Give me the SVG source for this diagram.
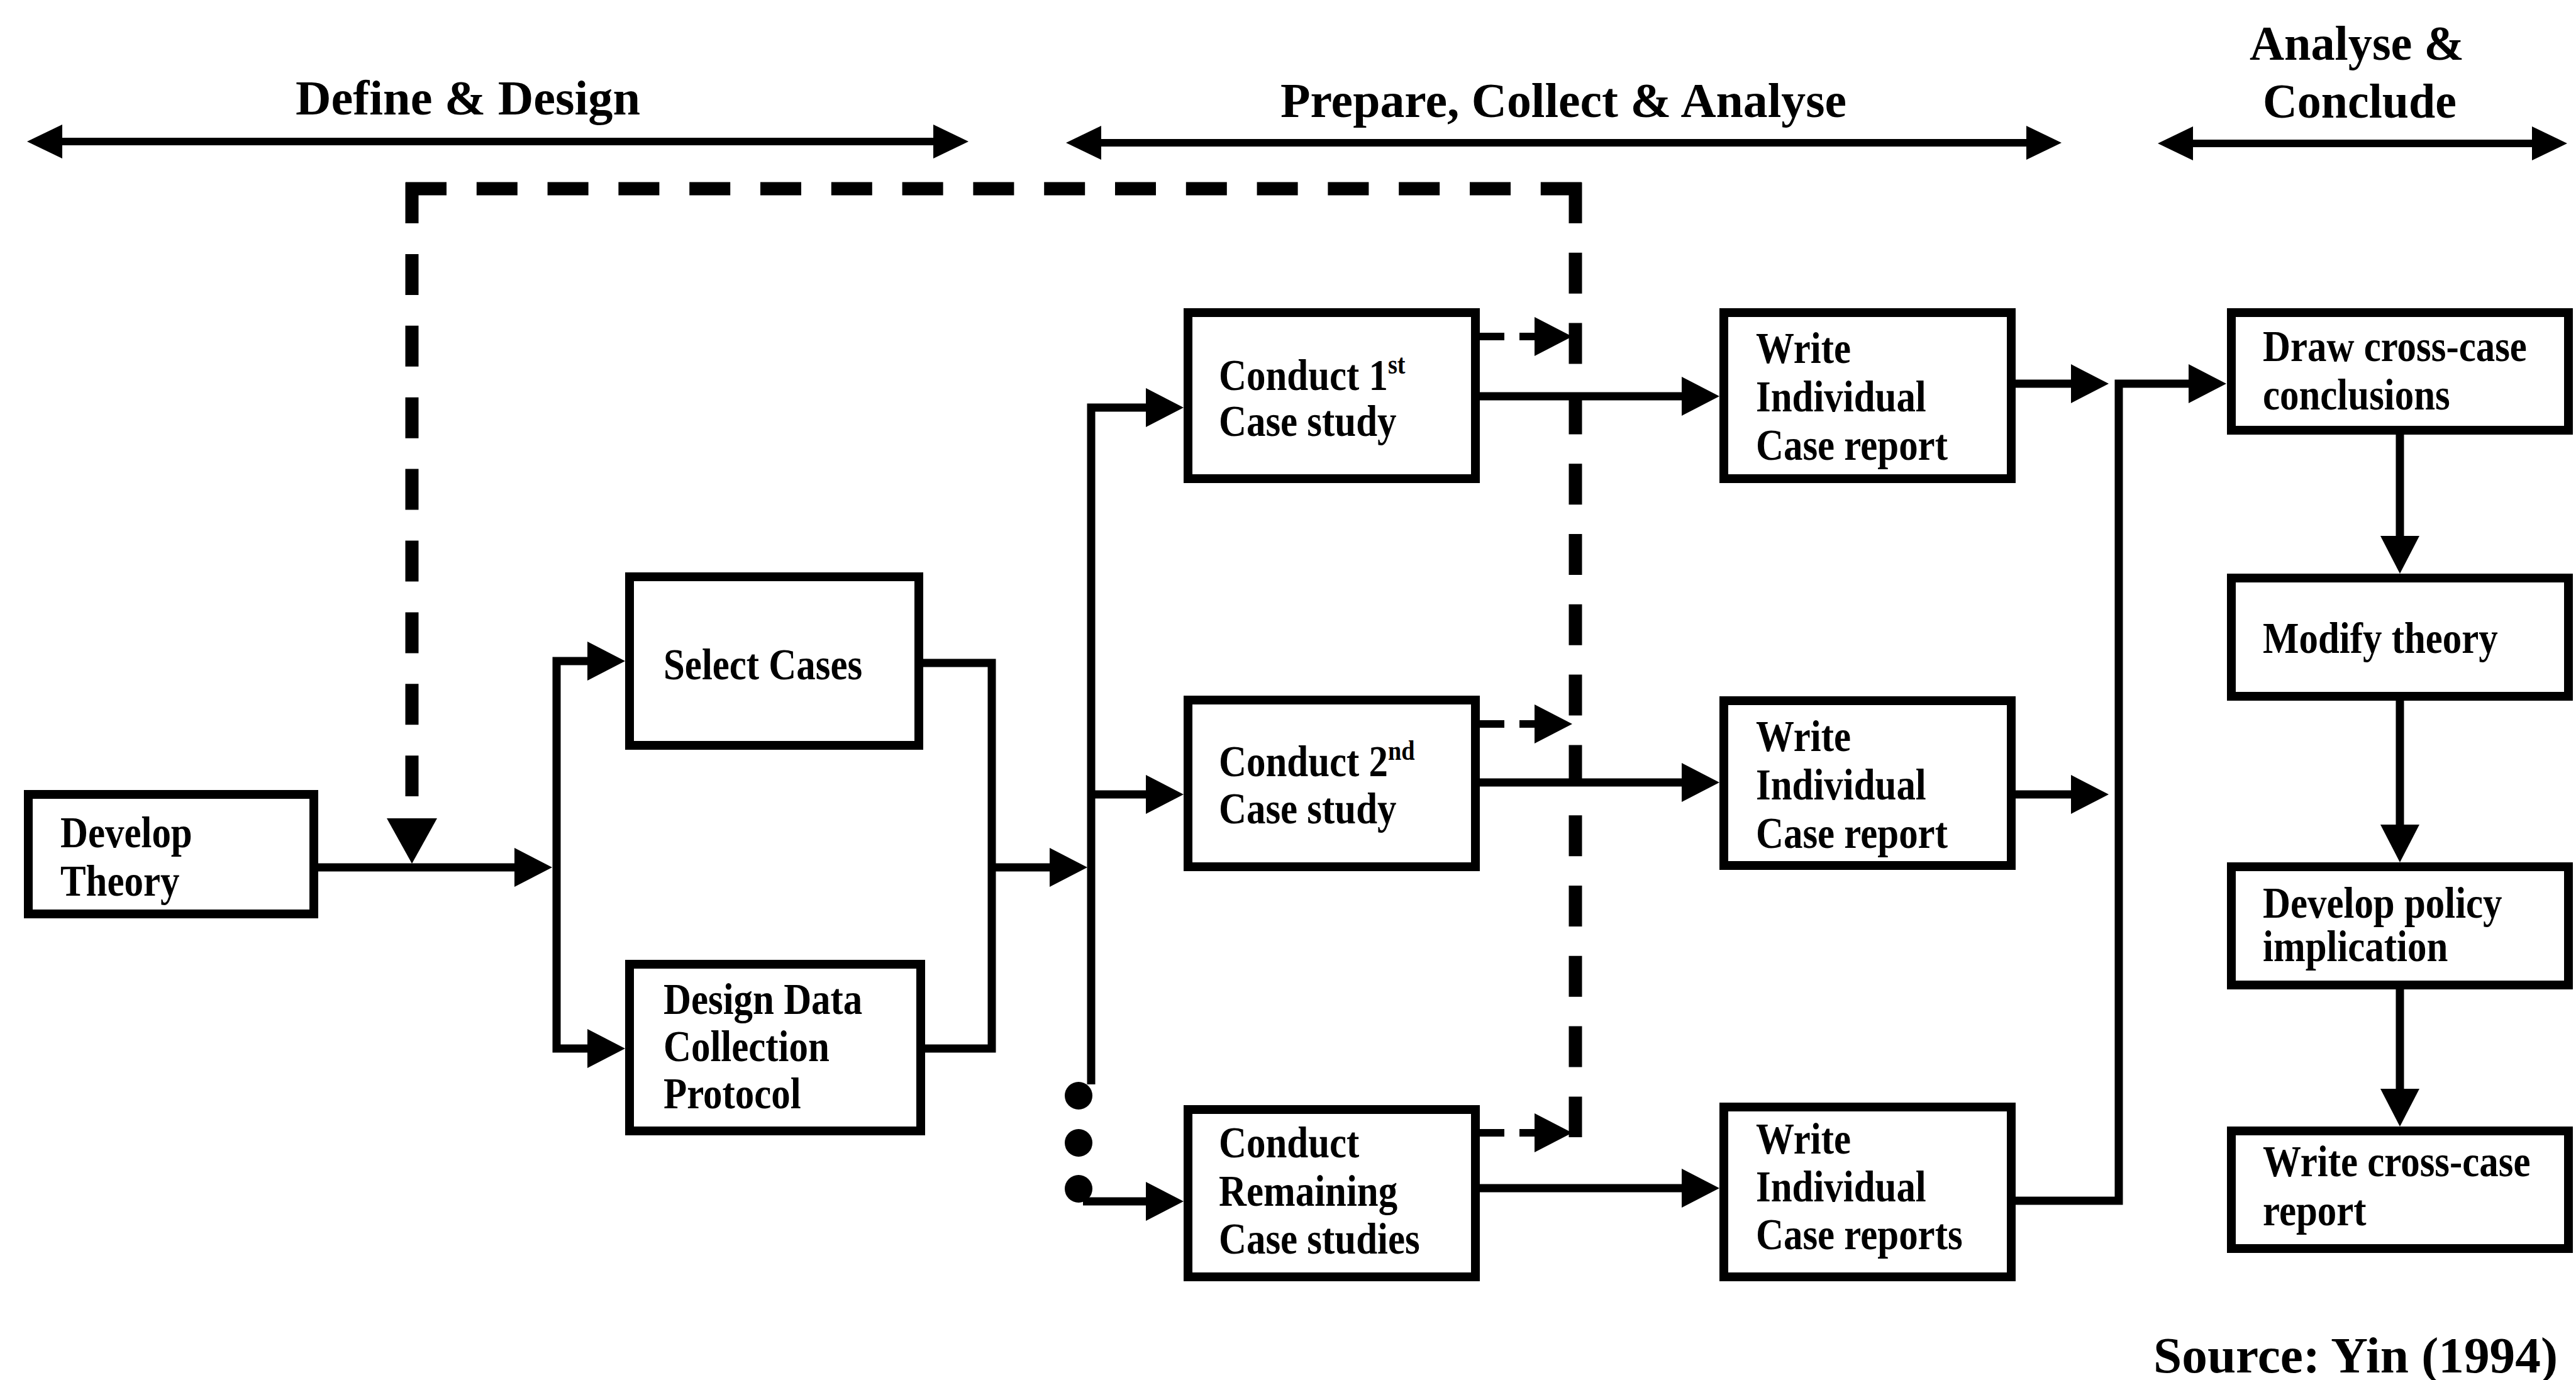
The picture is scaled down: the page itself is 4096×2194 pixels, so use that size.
<svg xmlns="http://www.w3.org/2000/svg" width="4096" height="2194" viewBox="0 0 4096 2194">
  <style>
    .box { fill: #fff; stroke: #000; stroke-width: 14; }
    .wire { fill: none; stroke: #000; stroke-width: 13; }
    .thin { fill: none; stroke: #000; stroke-width: 12; }
    .phase { fill: none; stroke: #000; stroke-width: 12; }
    .loop { fill: none; stroke: #000; stroke-width: 21; }
    .dot { fill: #000; }
    .lbl { font-family: "Liberation Serif", "Times New Roman", serif; font-weight: bold; font-size: 70px; fill: #000; }
    .hdr { font-family: "Liberation Serif", "Times New Roman", serif; font-weight: bold; font-size: 78px; fill: #000; }
    .src { font-family: "Liberation Serif", "Times New Roman", serif; font-weight: bold; font-size: 80px; fill: #000; }
    .sup { font-size: 44px; }
  </style>
  <defs>
    <marker id="arrow" markerUnits="userSpaceOnUse" viewBox="0 0 60 62" markerWidth="60" markerHeight="62" refX="6" refY="31" orient="auto-start-reverse">
      <path d="M0,0 L60,31 L0,62 Z" fill="#000"/>
    </marker>
    <marker id="phase-head" markerUnits="userSpaceOnUse" viewBox="0 0 56 54" markerWidth="56" markerHeight="54" refX="6" refY="27" orient="auto-start-reverse">
      <path d="M0,0 L56,27 L0,54 Z" fill="#000"/>
    </marker>
    <marker id="loop-head" markerUnits="userSpaceOnUse" viewBox="0 0 72 80" markerWidth="72" markerHeight="80" refX="2" refY="40" orient="auto">
      <path d="M0,0 L72,40 L0,80 Z" fill="#000"/>
    </marker>
  </defs>

  <rect width="4096" height="2194" fill="#fff"/>

  <!-- phase headings -->
  <g id="phases">
    <text class="hdr" x="470" y="182" textLength="548" lengthAdjust="spacingAndGlyphs">Define &amp; Design</text>
    <text class="hdr" x="2036" y="186" textLength="900" lengthAdjust="spacingAndGlyphs">Prepare, Collect &amp; Analyse</text>
    <text class="hdr" x="3577" y="95" textLength="341" lengthAdjust="spacingAndGlyphs">Analyse &amp;</text>
    <text class="hdr" x="3598" y="187" textLength="308" lengthAdjust="spacingAndGlyphs">Conclude</text>
    <path class="phase" d="M93,225 H1490" marker-start="url(#phase-head)" marker-end="url(#phase-head)"/>
    <path class="phase" d="M1745,227 H3228" marker-start="url(#phase-head)" marker-end="url(#phase-head)"/>
    <path class="phase" d="M3481,228 H4032" marker-start="url(#phase-head)" marker-end="url(#phase-head)"/>
  </g>

  <!-- connectors -->
  <g id="connectors">
    <!-- feedback loop (dashed) -->
    <path class="loop" d="M655,290 V1266" stroke-dasharray="65 48.9"/>
    <path class="loop" d="M645,300 H2515" stroke-dasharray="65 47.8"/>
    <path class="loop" d="M2505,290 V1808" stroke-dasharray="65 46.8"/>
    <path d="M655,1296 V1303" fill="none" stroke="none" marker-end="url(#loop-head)"/>

    <!-- theory to design branch -->
    <path class="wire" d="M499,1379 H824" marker-end="url(#arrow)"/>
    <path class="wire" d="M940,1051 H885 V1667 H940" marker-start="url(#arrow)" marker-end="url(#arrow)"/>
    <path class="wire" d="M1468,1054 H1577 V1667 H1471"/>
    <path class="wire" d="M1577,1379 H1675" marker-end="url(#arrow)"/>

    <!-- case study branch -->
    <path class="wire" d="M1828,648 H1735 V1724" marker-start="url(#arrow)"/>
    <path class="wire" d="M1735,1263 H1828" marker-end="url(#arrow)"/>
    <circle class="dot" cx="1715" cy="1742" r="22"/>
    <circle class="dot" cx="1715" cy="1817" r="22"/>
    <circle class="dot" cx="1715" cy="1890" r="22"/>
    <path class="wire" d="M1722,1910 H1828" marker-end="url(#arrow)"/>

    <!-- conduct to report -->
    <path class="wire" d="M2353,630 H2680" marker-end="url(#arrow)"/>
    <path class="wire" d="M2353,1244 H2680" marker-end="url(#arrow)"/>
    <path class="wire" d="M2353,1889 H2680" marker-end="url(#arrow)"/>

    <!-- short dashed feedback arrows -->
    <path class="thin" d="M2353,535 H2392"/>
    <path class="thin" d="M2416,535 H2446" marker-end="url(#arrow)"/>
    <path class="thin" d="M2353,1151 H2392"/>
    <path class="thin" d="M2416,1151 H2446" marker-end="url(#arrow)"/>
    <path class="thin" d="M2353,1801 H2392"/>
    <path class="thin" d="M2416,1801 H2446" marker-end="url(#arrow)"/>

    <!-- reports to cross-case analysis -->
    <path class="wire" d="M3205,610 H3299" marker-end="url(#arrow)"/>
    <path class="wire" d="M3205,1263 H3299" marker-end="url(#arrow)"/>
    <path class="wire" d="M3205,1909 H3369 V610 H3486" marker-end="url(#arrow)"/>

    <!-- conclusion chain -->
    <path class="wire" d="M3816,691 V858" marker-end="url(#arrow)"/>
    <path class="wire" d="M3816,1114 V1317" marker-end="url(#arrow)"/>
    <path class="wire" d="M3816,1573 V1737" marker-end="url(#arrow)"/>
  </g>

  <!-- nodes -->
  <g id="develop-theory">
    <rect class="box" x="45" y="1263" width="454" height="190"/>
    <text class="lbl" transform="translate(96 0) scale(0.87 1)"><tspan x="0" y="1347">Develop</tspan><tspan x="0" y="1424">Theory</tspan></text>
  </g>
  <g id="select-cases">
    <rect class="box" x="1001" y="917" width="460" height="268"/>
    <text class="lbl" transform="translate(1055 0) scale(0.87 1)"><tspan x="0" y="1080">Select Cases</tspan></text>
  </g>
  <g id="design-protocol">
    <rect class="box" x="1001" y="1533" width="463" height="265"/>
    <text class="lbl" transform="translate(1055 0) scale(0.87 1)"><tspan x="0" y="1612">Design Data</tspan><tspan x="0" y="1687">Collection</tspan><tspan x="0" y="1762">Protocol</tspan></text>
  </g>
  <g id="conduct-1">
    <rect class="box" x="1889" y="497" width="457" height="264"/>
    <text class="lbl" transform="translate(1938 0) scale(0.87 1)"><tspan x="0" y="620">Conduct 1<tspan class="sup" dy="-26">st</tspan></tspan><tspan x="0" y="693">Case study</tspan></text>
  </g>
  <g id="conduct-2">
    <rect class="box" x="1889" y="1113" width="457" height="265"/>
    <text class="lbl" transform="translate(1938 0) scale(0.87 1)"><tspan x="0" y="1234">Conduct 2<tspan class="sup" dy="-26">nd</tspan></tspan><tspan x="0" y="1309">Case study</tspan></text>
  </g>
  <g id="conduct-remaining">
    <rect class="box" x="1889" y="1764" width="457" height="266"/>
    <text class="lbl" transform="translate(1938 0) scale(0.87 1)"><tspan x="0" y="1840">Conduct</tspan><tspan x="0" y="1917">Remaining</tspan><tspan x="0" y="1993">Case studies</tspan></text>
  </g>
  <g id="report-1">
    <rect class="box" x="2741" y="497" width="457" height="264"/>
    <text class="lbl" transform="translate(2792 0) scale(0.87 1)"><tspan x="0" y="577">Write</tspan><tspan x="0" y="654">Individual</tspan><tspan x="0" y="731">Case report</tspan></text>
  </g>
  <g id="report-2">
    <rect class="box" x="2741" y="1114" width="457" height="262"/>
    <text class="lbl" transform="translate(2792 0) scale(0.87 1)"><tspan x="0" y="1194">Write</tspan><tspan x="0" y="1271">Individual</tspan><tspan x="0" y="1348">Case report</tspan></text>
  </g>
  <g id="report-remaining">
    <rect class="box" x="2741" y="1760" width="457" height="270"/>
    <text class="lbl" transform="translate(2792 0) scale(0.87 1)"><tspan x="0" y="1834">Write</tspan><tspan x="0" y="1910">Individual</tspan><tspan x="0" y="1986">Case reports</tspan></text>
  </g>
  <g id="cross-case-conclusions">
    <rect class="box" x="3548" y="497" width="536" height="187"/>
    <text class="lbl" transform="translate(3598 0) scale(0.87 1)"><tspan x="0" y="574">Draw cross-case</tspan><tspan x="0" y="651">conclusions</tspan></text>
  </g>
  <g id="modify-theory">
    <rect class="box" x="3548" y="919" width="536" height="188"/>
    <text class="lbl" transform="translate(3598 0) scale(0.87 1)"><tspan x="0" y="1038">Modify theory</tspan></text>
  </g>
  <g id="policy-implication">
    <rect class="box" x="3548" y="1378" width="536" height="188"/>
    <text class="lbl" transform="translate(3598 0) scale(0.87 1)"><tspan x="0" y="1459">Develop policy</tspan><tspan x="0" y="1528">implication</tspan></text>
  </g>
  <g id="cross-case-report">
    <rect class="box" x="3548" y="1798" width="536" height="187"/>
    <text class="lbl" transform="translate(3598 0) scale(0.87 1)"><tspan x="0" y="1870">Write cross-case</tspan><tspan x="0" y="1948">report</tspan></text>
  </g>

  <text id="source" class="src" x="3424" y="2182" textLength="643" lengthAdjust="spacingAndGlyphs">Source: Yin (1994)</text>
</svg>
